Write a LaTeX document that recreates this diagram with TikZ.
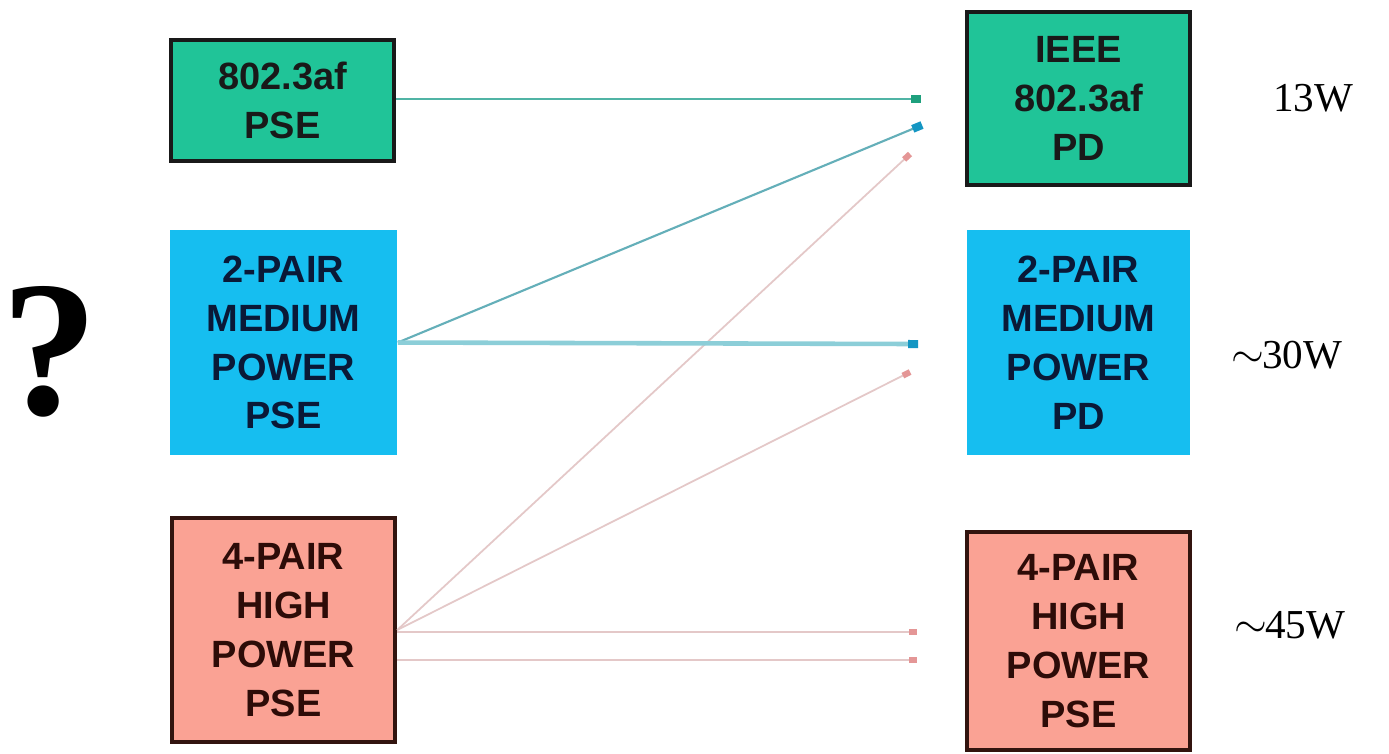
\documentclass[tikz,border=0pt]{standalone}
\usepackage{fontspec}
\setmainfont{Liberation Serif}
\newfontfamily\boxfont{Liberation Sans}
\usetikzlibrary{arrows.meta}

\definecolor{afgreen}{RGB}{32,196,152}
\definecolor{midblue}{RGB}{22,190,240}
\definecolor{hisalmon}{RGB}{250,162,148}
\definecolor{greenline}{RGB}{80,180,165}
\definecolor{greentip}{RGB}{30,160,125}
\definecolor{blueline}{RGB}{100,175,185}
\definecolor{bluethick}{RGB}{140,206,216}
\definecolor{bluetip}{RGB}{20,150,195}
\definecolor{redline}{RGB}{228,200,200}
\definecolor{redtip}{RGB}{228,150,150}
\definecolor{redborder}{RGB}{50,20,15}

\newcommand{\approxsign}{\raisebox{0.02em}{$\sim$}\kern-0.05em}

\tikzset{
  pbox/.style={rectangle, align=center, inner sep=0pt,
    font=\boxfont\bfseries\fontsize{10.8}{13.9}\selectfont},
  greenbox/.style={pbox, fill=afgreen, draw=black!90, line width=1.2pt, text=black!90},
  bluebox/.style={pbox, fill=midblue, text={rgb,255:red,10;green,25;blue,55}},
  redbox/.style={pbox, fill=hisalmon, draw=redborder, line width=1.2pt, text={rgb,255:red,45;green,12;blue,8}},
  watt/.style={font=\fontsize{11.7}{14}\selectfont},
  link/.style={line width=0.6pt},
  greenlink/.style={link, draw=greenline, -{Rectangle[length=0.1cm,width=0.08cm,color=greentip]}},
  bluelink/.style={link, draw=blueline, -{Rectangle[length=0.1cm,width=0.08cm,color=bluetip]}},
  bluethicklink/.style={line width=1.3pt, draw=bluethick, -{Rectangle[length=0.1cm,width=0.08cm,color=bluetip]}},
  redlink/.style={line width=0.5pt, draw=redline, -{Rectangle[length=0.08cm,width=0.06cm,color=redtip]}}
}

\begin{document}
\begin{tikzpicture}[x=0.01cm, y=-0.01cm]
  \useasboundingbox (0,0) rectangle (1389,753);
  \fill[white] (0,0) rectangle (1389,753);

  % source equipment (left column)
  \node[greenbox, minimum width=2.23cm, minimum height=1.21cm] (lg) at (282.5,100.5) {802.3af\\PSE};
  \node[bluebox, minimum width=2.27cm, minimum height=2.25cm] (lb) at (283.5,342.5) {2-PAIR\\MEDIUM\\POWER\\PSE};
  \node[redbox, minimum width=2.23cm, minimum height=2.24cm] (lr) at (283.5,630) {4-PAIR\\HIGH\\POWER\\PSE};

  % powered devices (right column)
  \node[greenbox, minimum width=2.23cm, minimum height=1.73cm] (rg) at (1078.5,98.5) {IEEE\\802.3af\\PD};
  \node[bluebox, minimum width=2.23cm, minimum height=2.25cm] (rb) at (1078.5,342.5) {2-PAIR\\MEDIUM\\POWER\\PD};
  \node[redbox, minimum width=2.23cm, minimum height=2.18cm] (rr) at (1078.5,641) {4-PAIR\\HIGH\\POWER\\PSE};

  % power levels
  \node[watt] (w1) at (1313,98) {13W};
  \node[watt] (w2) at (1287,355) {\approxsign30W};
  \node[watt] (w3) at (1290,625) {\approxsign45W};

  % question mark
  \node[font=\bfseries\fontsize{55}{60}\selectfont, inner sep=0pt] (q) at (50,352) {?};

  % arrow end points
  \coordinate (a1) at (921,99);
  \coordinate (a2) at (922,125);
  \coordinate (a3) at (918,344);
  \coordinate (a4) at (910,154);
  \coordinate (a5) at (910,372);
  \coordinate (a6) at (917,632);
  \coordinate (a7) at (917,660);

  % connectors
  \draw[redlink] (lr.east) -- (a4);
  \draw[redlink] (lr.east) -- (a5);
  \draw[redlink] (lr.east |- a6) -- (a6);
  \draw[redlink] (lr.east |- a7) -- (a7);
  \draw[greenlink] (lg.east |- a1) -- (a1);
  \draw[bluelink] (lb.east) -- (a2);
  \draw[bluethicklink] (lb.east) -- (a3);
\end{tikzpicture}
\end{document}
